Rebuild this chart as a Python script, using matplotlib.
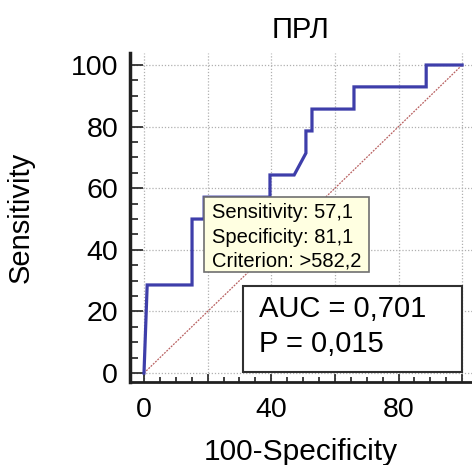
import matplotlib
matplotlib.use('Agg')
import matplotlib.pyplot as plt
from matplotlib.patches import Rectangle
from matplotlib.ticker import MultipleLocator, FixedFormatter, FixedLocator

plt.rcParams['font.family'] = ['Liberation Sans', 'DejaVu Sans']

# ROC curve points (100-Specificity, Sensitivity)
fpr = [0, 1.0, 15.1, 15.1, 18.9, 18.9, 39.6, 39.6, 47.2, 50.9, 50.9,
       52.8, 52.8, 66.0, 66.0, 88.7, 88.7, 100]
tpr = [0, 28.6, 28.6, 50.0, 50.0, 57.1, 57.1, 64.3, 64.3, 71.4, 78.6,
       78.6, 85.7, 85.7, 92.9, 92.9, 100, 100]

# criterion point
crit_sens = 57.1
crit_spec = 81.1
crit_value = '>582,2'
auc = '0,701'
p_value = '0,015'

xticks_major = [0, 20, 40, 60, 80, 100]
xtick_labels = ['0', '', '40', '', '80', '']
yticks_major = [0, 20, 40, 60, 80, 100]

fig = plt.figure(figsize=(4.72, 4.65), dpi=100)
ax = fig.add_axes((130/472, 1-382/465, 342/472, 329/465))

ax.plot([0, 100], [0, 100], color='#b86060', lw=0.9, ls=(0, (1.5, 1)), zorder=2)
ax.plot(fpr, tpr, color='#3e3eaa', lw=2.3, zorder=3, solid_joinstyle='miter')

ax.set_xlim(-4.4, 103.1)
ax.set_ylim(-2.9, 103.9)

ax.xaxis.set_major_locator(FixedLocator(xticks_major))
ax.xaxis.set_major_formatter(FixedFormatter(xtick_labels))
ax.xaxis.set_minor_locator(MultipleLocator(5))
ax.yaxis.set_major_locator(FixedLocator(yticks_major))
ax.yaxis.set_minor_locator(MultipleLocator(5))

ax.grid(True, which='major', color='#b0b0b0', ls=(0, (1, 1.5)), lw=0.9)
ax.set_axisbelow(True)

for s in ['top', 'right']:
    ax.spines[s].set_visible(False)
ax.spines['left'].set_linewidth(2.5)
ax.spines['bottom'].set_linewidth(2)
ax.spines['left'].set_color('#202020')
ax.spines['bottom'].set_color('#202020')

ax.tick_params(axis='y', which='major', direction='in', length=9.5, width=1.2,
               labelsize=20.5, pad=8.5, color='#202020')
ax.tick_params(axis='y', which='minor', direction='in', length=5.5, width=1.2,
               color='#202020')
ax.tick_params(axis='x', which='major', direction='in', length=6, width=1.2,
               labelsize=20.5, pad=10.5, color='#202020')
ax.tick_params(axis='x', which='minor', direction='in', length=3.5, width=1.2,
               color='#202020')

ax.set_title('ПРЛ', fontsize=21, pad=10.5)
ax.set_xlabel('100-Specificity', fontsize=21.5)
ax.set_ylabel('Sensitivity', fontsize=21)
ax.xaxis.set_label_coords(0.5, -0.17)
ax.yaxis.set_label_coords(-0.278, 0.5)

# tooltip at the criterion point
cx = 100 - crit_spec
ax.add_patch(Rectangle((cx, crit_sens - 24.3), 51.8, 24.3, facecolor='#ffffe1',
                       edgecolor='#707070', lw=1.2, zorder=5))
ax.text(cx + 2.6, crit_sens - 2.0,
        'Sensitivity: %s\nSpecificity: %s\nCriterion: %s' %
        (str(crit_sens).replace('.', ','), str(crit_spec).replace('.', ','), crit_value),
        fontsize=14.5, va='top', ha='left', linespacing=1.35, zorder=6)

# AUC box
ax.add_patch(Rectangle((31.1, 0.3), 68.9, 27.9, facecolor='white',
                       edgecolor='#303030', lw=1.5, zorder=5))
ax.text(36.0, 20.8, 'AUC = ' + auc, fontsize=21, va='center', ha='left', zorder=6)
ax.text(36.0, 9.5, 'P = ' + p_value, fontsize=21, va='center', ha='left', zorder=6)

fig.savefig('out.png', dpi=100)
